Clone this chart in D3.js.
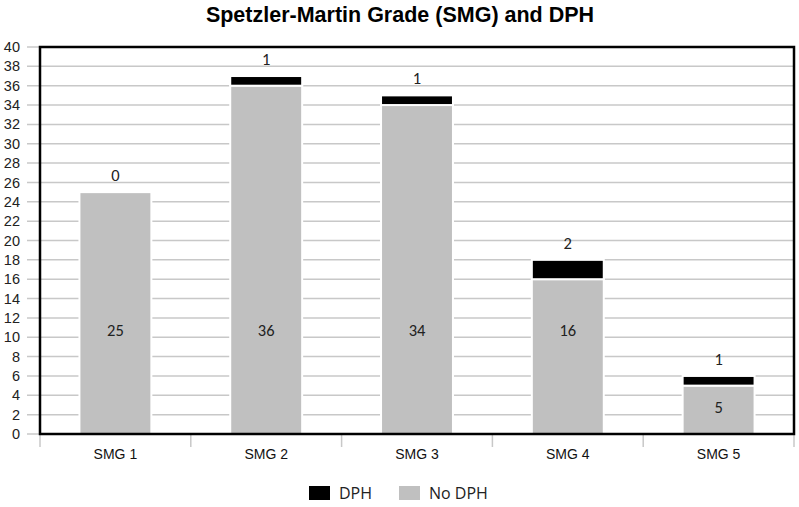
<!DOCTYPE html>
<html><head><meta charset="utf-8">
<script src="https://cdn.jsdelivr.net/npm/d3@7"></script>
<style>body{margin:0;background:#fff}</style>
</head><body>
<svg id="c" width="799" height="507"></svg>
<script>
const categories = ["SMG 1","SMG 2","SMG 3","SMG 4","SMG 5"];
const noDPH = [25,36,34,16,5];
const dph = [0,1,1,2,1];
const yTicks = d3.range(0,41,2);
const seriesNames = ["DPH","No DPH"];
const colors = {"DPH":"#000000","No DPH":"#c0c0c0"};

const svg = d3.select("#c");
const L=40,R=794,T=47,B=434;
const x = d3.scaleBand().domain(categories).range([L,R]).paddingInner(0.523).paddingOuter(0.2615);
const xAxisScale = d3.scaleBand().domain(categories).range([L,R]);
const y = d3.scaleLinear().domain([0,40]).range([B,T]);

// title
svg.append("text").attr("x",400).attr("y",22).attr("text-anchor","middle")
  .attr("font-family","Liberation Sans, Arial, sans-serif").attr("font-weight","bold").attr("font-size",21.5)
  .text("Spetzler-Martin Grade (SMG) and DPH");

// gridlines
svg.append("g").selectAll("line").data(yTicks).join("line")
  .attr("x1",27).attr("x2",R).attr("y1",d=>y(d)).attr("y2",d=>y(d))
  .attr("stroke","#c8c8c8").attr("stroke-width",1.5);

// y labels
svg.append("g").selectAll("text").data(yTicks).join("text")
  .attr("x",20).attr("y",d=>y(d)).attr("dy","0.35em").attr("text-anchor","end")
  .attr("font-family","Liberation Sans, Arial, sans-serif").attr("font-size",14.5).attr("fill","#222")
  .text(d=>d);

// x tick marks
const xt = categories.map(c=>xAxisScale(c)).concat([R]);
svg.append("g").selectAll("line").data(xt).join("line")
  .attr("x1",d=>d).attr("x2",d=>d).attr("y1",B).attr("y2",B+13)
  .attr("stroke","#c8c8c8").attr("stroke-width",1.5);

// bars
const g = svg.append("g");
categories.forEach((c,i)=>{
  g.append("rect").attr("x",x(c)).attr("width",x.bandwidth())
    .attr("y",y(noDPH[i])).attr("height",y(0)-y(noDPH[i]))
    .attr("fill",colors["No DPH"]).attr("stroke","#fff").attr("stroke-width",2);
  if(dph[i]>0){
    g.append("rect").attr("x",x(c)).attr("width",x.bandwidth())
      .attr("y",y(noDPH[i]+dph[i])).attr("height",y(noDPH[i])-y(noDPH[i]+dph[i]))
      .attr("fill",colors["DPH"]).attr("stroke","#fff").attr("stroke-width",2);
  }
  const cx = x(c)+x.bandwidth()/2;
  const lv = noDPH[i]>=10.7 ? 10.7 : noDPH[i]/2+0.3;
  g.append("text").attr("x",cx).attr("y",y(lv)).attr("dy","0.35em").attr("text-anchor","middle")
    .attr("font-family","Carlito, Lato, sans-serif").attr("font-size",16.5).attr("fill","#222")
    .text(noDPH[i]);
  g.append("text").attr("x",cx).attr("y",y(noDPH[i]+dph[i])-17).attr("dy","0.35em").attr("text-anchor","middle")
    .attr("font-family","Carlito, Lato, sans-serif").attr("font-size",16.5).attr("fill","#222")
    .text(dph[i]);
});

// frame
svg.append("rect").attr("x",L).attr("y",T).attr("width",R-L).attr("height",B-T)
  .attr("fill","none").attr("stroke","#000").attr("stroke-width",2.5);

// x labels
svg.append("g").selectAll("text").data(categories).join("text")
  .attr("x",d=>xAxisScale(d)+xAxisScale.bandwidth()/2).attr("y",459)
  .attr("text-anchor","middle").attr("font-family","Liberation Sans, Arial, sans-serif")
  .attr("font-size",14).attr("fill","#111").text(d=>d);

// legend
const lg = svg.append("g");
const lx = [309,399];
seriesNames.forEach((s,i)=>{
  lg.append("rect").attr("x",lx[i]).attr("y",486).attr("width",21).attr("height",14).attr("fill",colors[s]);
  lg.append("text").attr("x",lx[i]+30).attr("y",493).attr("dy","0.35em")
    .attr("font-family","Open Sans, Lato, sans-serif").attr("font-size",16).attr("fill","#222").text(s);
});
</script>
</body></html>
